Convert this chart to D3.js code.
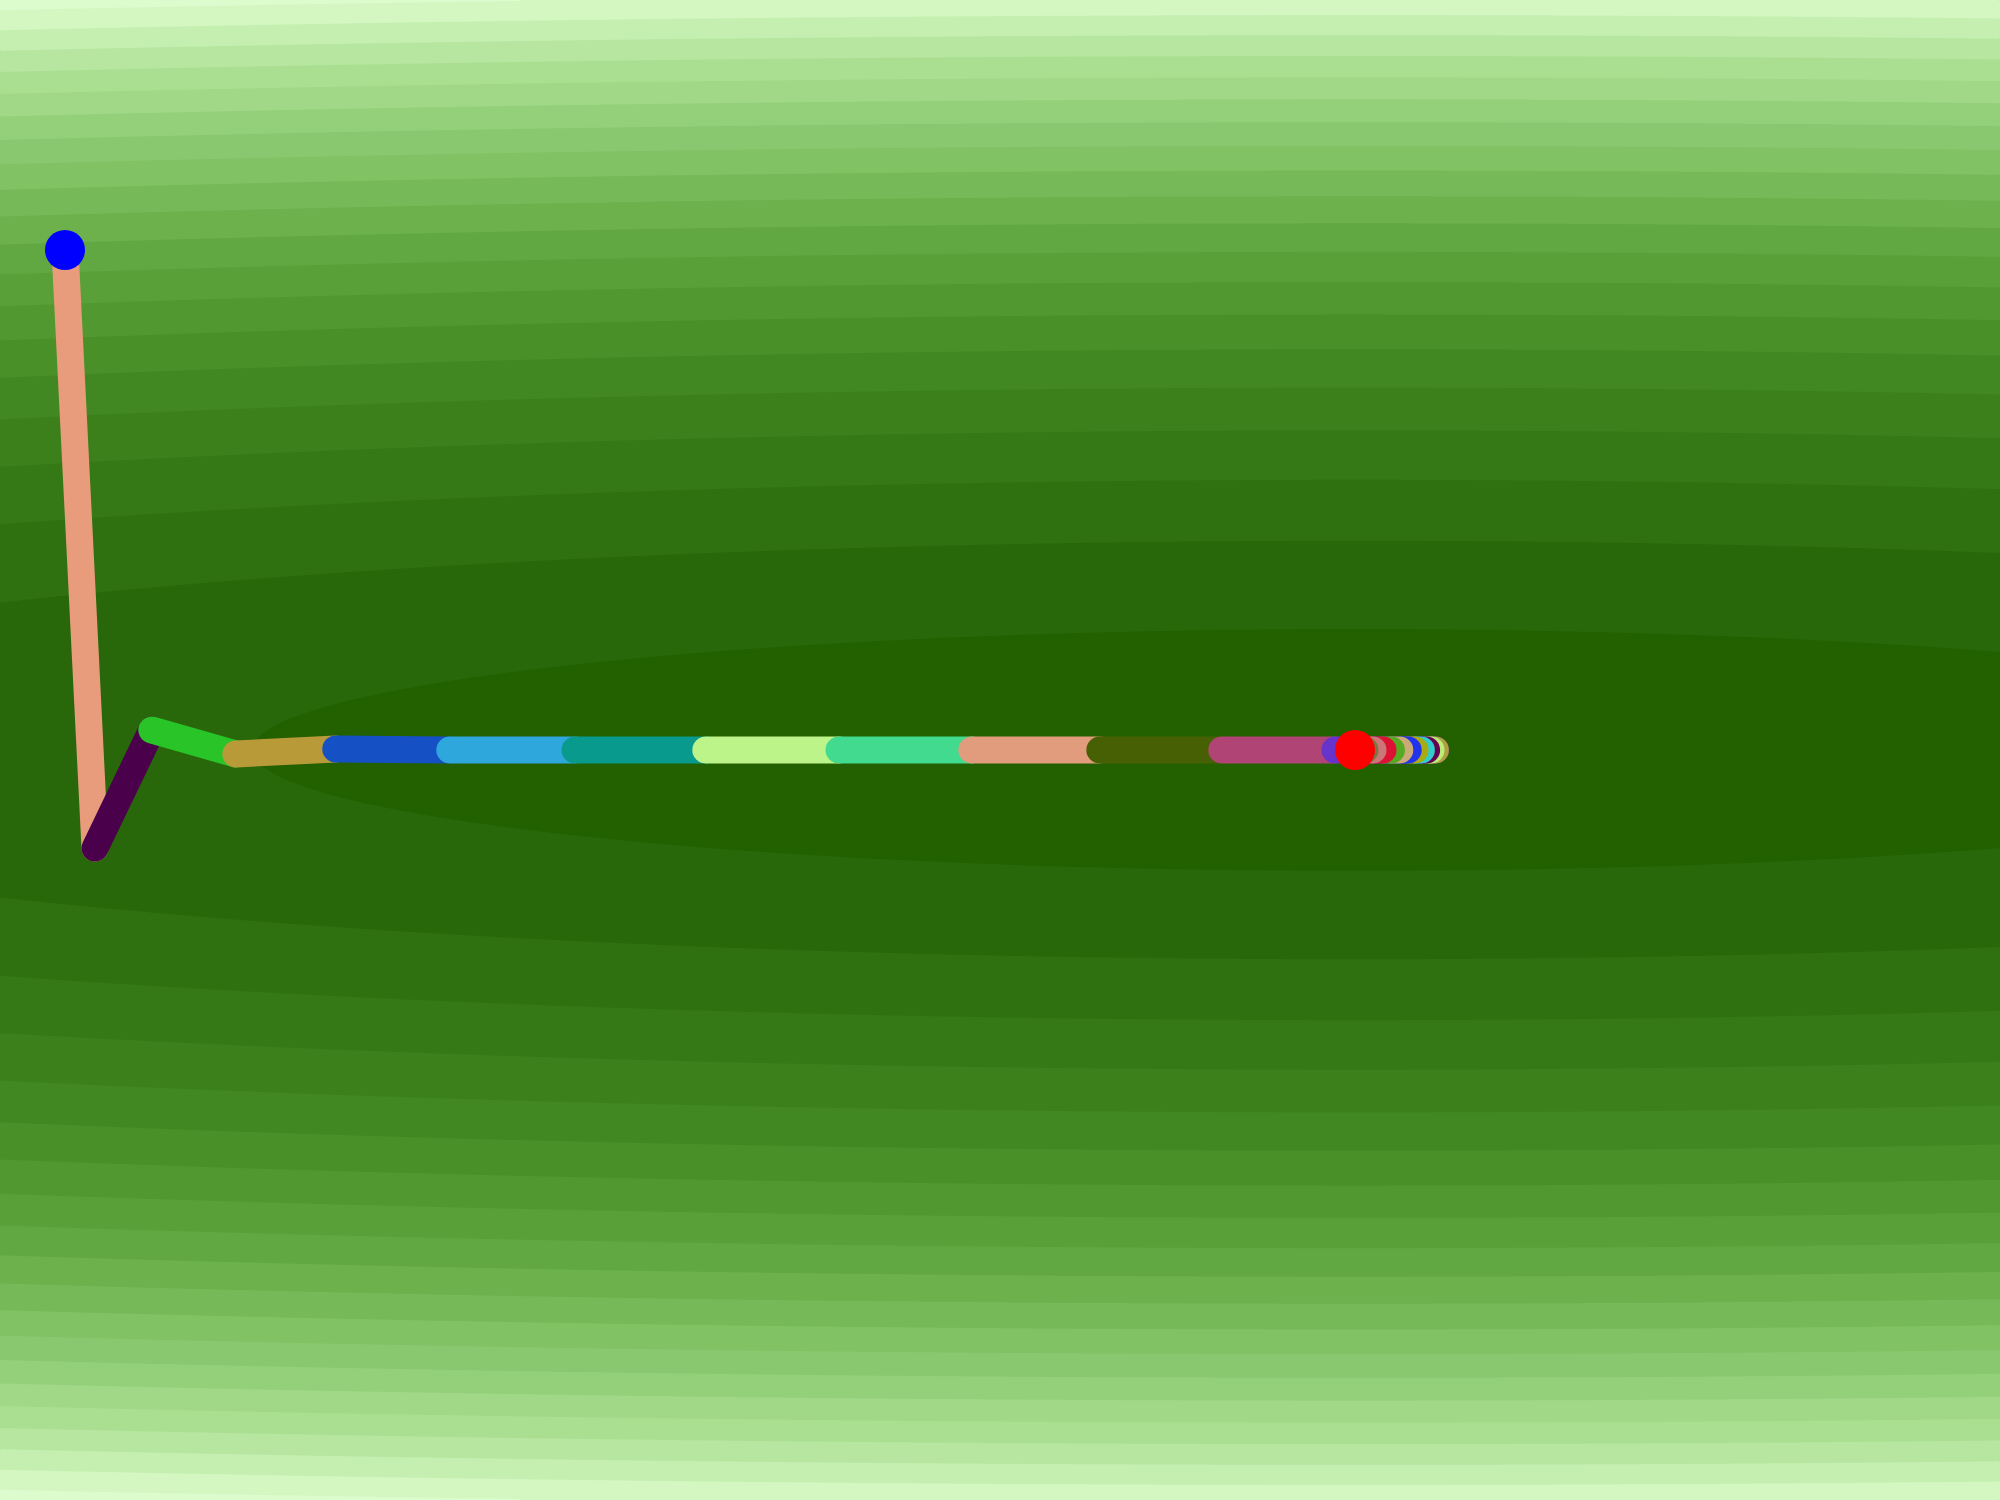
<!DOCTYPE html>
<html><head><meta charset="utf-8">
<script src="https://cdn.jsdelivr.net/npm/d3@7"></script>
<style>html,body{margin:0;padding:0;background:#fff}svg{display:block}</style>
</head><body>
<svg id="chart" width="2000" height="1500"></svg>
<script>
// ---- data ----
const xDomain = [-3.3875, 1.6125];
const yDomain = [1.875, -1.875];
const coefX = 0.0658;   // loss = coefX*x^2 + coefY*y^2
const coefY = 5.48;
const levelColors = ["#226000","#29680a","#2f7010","#357816","#3c801c","#428822","#4a9028","#529830","#5aa038","#62a842","#6cb14c","#76b958","#80c264","#8ac870","#94d07a","#a0d888","#aadf92","#b6e6a0","#c4efb0","#d4f7c2","#dcfcce","#e2ffd6","#e6ffdc"];
const pathX = [-3.225,-3.15,-3.008,-2.798,-2.548,-2.263,-1.95,-1.623,-1.29,-0.958,-0.638,-0.333,-0.05,0.201,0.19,0.179,0.166,0.15,0.133,0.112,0.091,0.07,0.045,0.025,0];
const pathY = [1.25,-0.245,0.05,-0.01,0.0025,0,0,0,0,0,0,0,0,0,0,0,0,0,0,0,0,0,0,0,0];
const segColors = ["#e89c7c","#4a004a","#28c428","#b89a38","#1550c4","#2ea8dc","#089a8c","#bcf48a","#42da8e","#e09c7c","#486004","#b04474","#6633cc","#b0a040","#bbee77","#660055","#33cccc","#aaaa11","#2233ee","#ccaa77","#55aa22","#dd1133","#cc7777","#777744"];
const startColor = "#0000ff", endColor = "#ff0000";

// ---- drawing ----
const W = 2000, H = 1500;
const svg = d3.select("#chart");
const x = d3.scaleLinear().domain(xDomain).range([0, W]);
const y = d3.scaleLinear().domain(yDomain).range([0, H]);
function loss(px, py) { return coefX * px * px + coefY * py * py; }

const step = 2, nx = W / step, ny = H / step;
const values = new Float64Array(nx * ny);
for (let j = 0; j < ny; j++) {
  const py = y.invert(j * step + step / 2);
  for (let i = 0; i < nx; i++) {
    values[j * nx + i] = loss(x.invert(i * step + step / 2), py);
  }
}
const thresholds = d3.range(0.5, levelColors.length - 1, 1);
const contours = d3.contours().size([nx, ny]).thresholds(thresholds)(values);
const geo = d3.geoPath(d3.geoIdentity().scale(step));
svg.append("rect").attr("width", W).attr("height", H).attr("fill", levelColors[0]);
svg.append("g").selectAll("path").data(contours).join("path")
  .attr("d", geo)
  .attr("fill", (d, i) => levelColors[i + 1]);

const pts = pathX.map((v, i) => [v, pathY[i]]);
svg.append("g").selectAll("line").data(d3.pairs(pts)).join("line")
  .attr("x1", d => x(d[0][0])).attr("y1", d => y(d[0][1]))
  .attr("x2", d => x(d[1][0])).attr("y2", d => y(d[1][1]))
  .attr("stroke", (d, i) => segColors[i])
  .attr("stroke-width", 27)
  .attr("stroke-linecap", "round");
svg.append("circle").attr("cx", x(pts[0][0])).attr("cy", y(pts[0][1])).attr("r", 20).attr("fill", startColor);
const last = pts[pts.length - 1];
svg.append("circle").attr("cx", x(last[0])).attr("cy", y(last[1])).attr("r", 20).attr("fill", endColor);
</script>
</body></html>
